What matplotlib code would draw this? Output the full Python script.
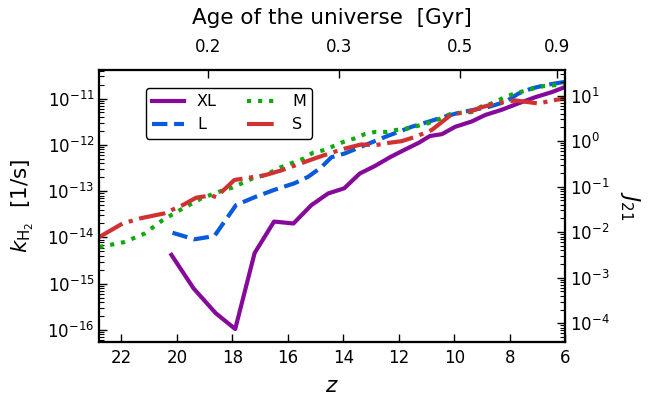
import numpy as np
import matplotlib
matplotlib.use("Agg")
import matplotlib.pyplot as plt

# ---- data ----
z_xl = [20.2, 19.4, 18.6, 17.9, 17.2, 16.5, 15.8, 15.15, 14.55, 13.97, 13.41, 12.86,
        12.32, 11.78, 11.29, 10.88, 10.45, 9.97, 9.37, 8.89, 8.28, 7.68, 7.08, 6.48, 6.0]
k_xl = [4.2e-15, 7.9e-16, 2.3e-16, 1.05e-16, 4.6e-15, 2.2e-14, 2.0e-14, 5.0e-14, 8.9e-14,
        1.15e-13, 2.4e-13, 3.5e-13, 5.4e-13, 7.9e-13, 1.1e-12, 1.55e-12, 1.7e-12, 2.45e-12,
        3.2e-12, 4.4e-12, 5.75e-12, 7.9e-12, 1.07e-11, 1.38e-11, 1.78e-11]

z_l = [20.16, 19.37, 18.65, 17.87, 17.2, 16.48, 15.76, 15.27, 14.79, 14.43, 13.95, 13.23,
       12.5, 12.02, 11.54, 10.93, 10.33, 9.85, 9.37, 8.76, 8.16, 7.68, 7.2, 6.72, 6.0]
k_l = [1.26e-14, 9.1e-15, 1.07e-14, 5.0e-14, 7.4e-14, 1.07e-13, 1.48e-13, 2.04e-13, 3.3e-13,
       5.4e-13, 6.5e-13, 9.8e-13, 1.48e-12, 1.9e-12, 2.45e-12, 3.16e-12, 4.1e-12, 4.9e-12,
       5.6e-12, 6.6e-12, 8.5e-12, 1.29e-11, 1.66e-11, 1.95e-11, 2.3e-11]

z_m = [22.8, 21.91, 21.18, 20.52, 19.86, 19.13, 18.53, 17.99, 17.26, 16.84, 16.24, 15.88,
       15.45, 15.09, 14.73, 14.37, 14.01, 13.59, 13.23, 12.86, 12.44, 12.08, 11.72, 11.29,
       10.93, 10.57, 10.15, 9.79, 9.37, 9.01, 8.64, 8.28, 7.92, 7.5, 7.14, 6.77, 6.35, 6.0]
k_m = [6.2e-15, 7.9e-15, 1.2e-14, 2.35e-14, 4.0e-14, 6.9e-14, 9.5e-14, 1.2e-13, 1.9e-13,
       2.2e-13, 3.3e-13, 4.0e-13, 5.0e-13, 6.8e-13, 7.6e-13, 9.3e-13, 1.15e-12, 1.38e-12,
       1.7e-12, 1.9e-12, 1.9e-12, 2.1e-12, 2.24e-12, 2.6e-12, 2.95e-12, 3.55e-12, 4.6e-12,
       4.9e-12, 5.1e-12, 6.8e-12, 7.9e-12, 1.0e-11, 1.23e-11, 1.45e-11, 1.66e-11, 1.86e-11,
       1.95e-11, 2.1e-11]

z_s = [22.8, 21.96, 21.3, 20.46, 19.79, 19.31, 18.77, 18.59, 17.93, 17.62, 17.2, 16.84,
       16.24, 15.52, 14.91, 14.31, 13.95, 13.35, 12.86, 12.38, 11.9, 11.42, 10.81, 10.45,
       10.09, 9.73, 9.37, 9.01, 8.52, 7.8, 6.95, 6.48, 6.0]
k_s = [1.02e-14, 2.0e-14, 2.6e-14, 3.3e-14, 5.0e-14, 7.2e-14, 8.1e-14, 7.4e-14, 1.74e-13,
       1.86e-13, 2.04e-13, 2.2e-13, 2.8e-13, 4.0e-13, 5.4e-13, 7.1e-13, 8.3e-13, 1.02e-12,
       9.8e-13, 1.1e-12, 1.2e-12, 1.48e-12, 2.1e-12, 3.1e-12, 4.6e-12, 4.9e-12, 5.4e-12,
       6.5e-12, 7.8e-12, 9.1e-12, 7.8e-12, 9.1e-12, 1.0e-11]

labels = ["XL", "L", "M", "S"]
z_ticks = [22, 20, 18, 16, 14, 12, 10, 8, 6]
age_ticks = [0.2, 0.3, 0.5, 0.9]
age_ticklabels = ["0.2", "0.3", "0.5", "0.9"]

# ---- cosmology for the top axis ----
H0 = 70.2
Om, OL = 0.275, 0.725
tH = 977.8 / H0  # Gyr


def age_to_z(t):
    t = np.asarray(t, dtype=float)
    x = np.sqrt(Om / OL) * np.sinh(1.5 * np.sqrt(OL) * t / tH)
    return x ** (-2.0 / 3.0) - 1.0


plt.rcParams['font.family'] = ['DejaVu Sans']
plt.rcParams['mathtext.fontset'] = 'dejavusans'

fig = plt.figure(figsize=(6.49, 4.01), dpi=100)
ax = fig.add_axes([0.153, 0.148, 0.718, 0.677])

lw = 3
ax.plot(z_xl, k_xl, color='#860a9a', lw=lw, ls='-', label=labels[0])
ax.plot(z_l, k_l, color='#0a5adc', lw=lw, ls='--', label=labels[1])
ax.plot(z_m, k_m, color='#10aa10', lw=lw, ls=':', label=labels[2])
ax.plot(z_s, k_s, color='#d03232', lw=lw, ls='-.', label=labels[3])

ax.set_yscale('log')
ax.set_xlim(22.8, 6)
ax.set_ylim(5.6e-17, 4.1e-11)
ax.set_xticks(z_ticks)
ax.set_xticklabels([str(v) for v in z_ticks])
ax.xaxis.set_minor_locator(matplotlib.ticker.NullLocator())
ax.set_xlabel('$z$', fontsize=15.5, labelpad=7)
ax.set_ylabel(r'$k_{\rm H_2}$  [1/s]', fontsize=15.5, labelpad=8)
ax.tick_params(which='major', direction='in', length=6, width=1, labelsize=12,
               top=False, right=False)
ax.tick_params(axis='x', which='major', pad=5)
ax.tick_params(which='minor', direction='in', length=3.5, width=0.8,
               top=False, right=False)

for sp in ax.spines.values():
    sp.set_linewidth(1.5)

leg = ax.legend(ncol=2, loc='upper left', bbox_to_anchor=(0.1, 0.935),
                borderaxespad=0, fontsize=11.5, frameon=True, fancybox=True,
                framealpha=1, edgecolor='black', handlelength=2.0,
                columnspacing=1.9)
leg.get_frame().set_linewidth(1.0)

# right axis
ax2 = ax.twinx()
ax2.set_yscale('log')
ax2.set_ylim(10 ** -4.404, 10 ** 1.557)
ax2.set_ylabel('$J_{21}$', fontsize=15.5, rotation=-90, labelpad=23)
ax2.tick_params(which='major', direction='in', length=6, width=1, labelsize=12)
ax2.tick_params(which='minor', direction='in', length=3.5, width=0.8)
for sp in ax2.spines.values():
    sp.set_linewidth(1.5)

# top axis
ax3 = ax.twiny()
ax3.set_xlim(ax.get_xlim())
ax3.set_xticks(age_to_z(age_ticks))
ax3.set_xticklabels(age_ticklabels)
ax3.xaxis.set_minor_locator(matplotlib.ticker.NullLocator())
ax3.tick_params(which='major', direction='in', length=6, width=1, labelsize=12,
                pad=10)
ax3.set_xlabel('Age of the universe  [Gyr]', fontsize=15.5, labelpad=10)
for sp in ax3.spines.values():
    sp.set_linewidth(1.5)

fig.savefig('out.png', dpi=100)
